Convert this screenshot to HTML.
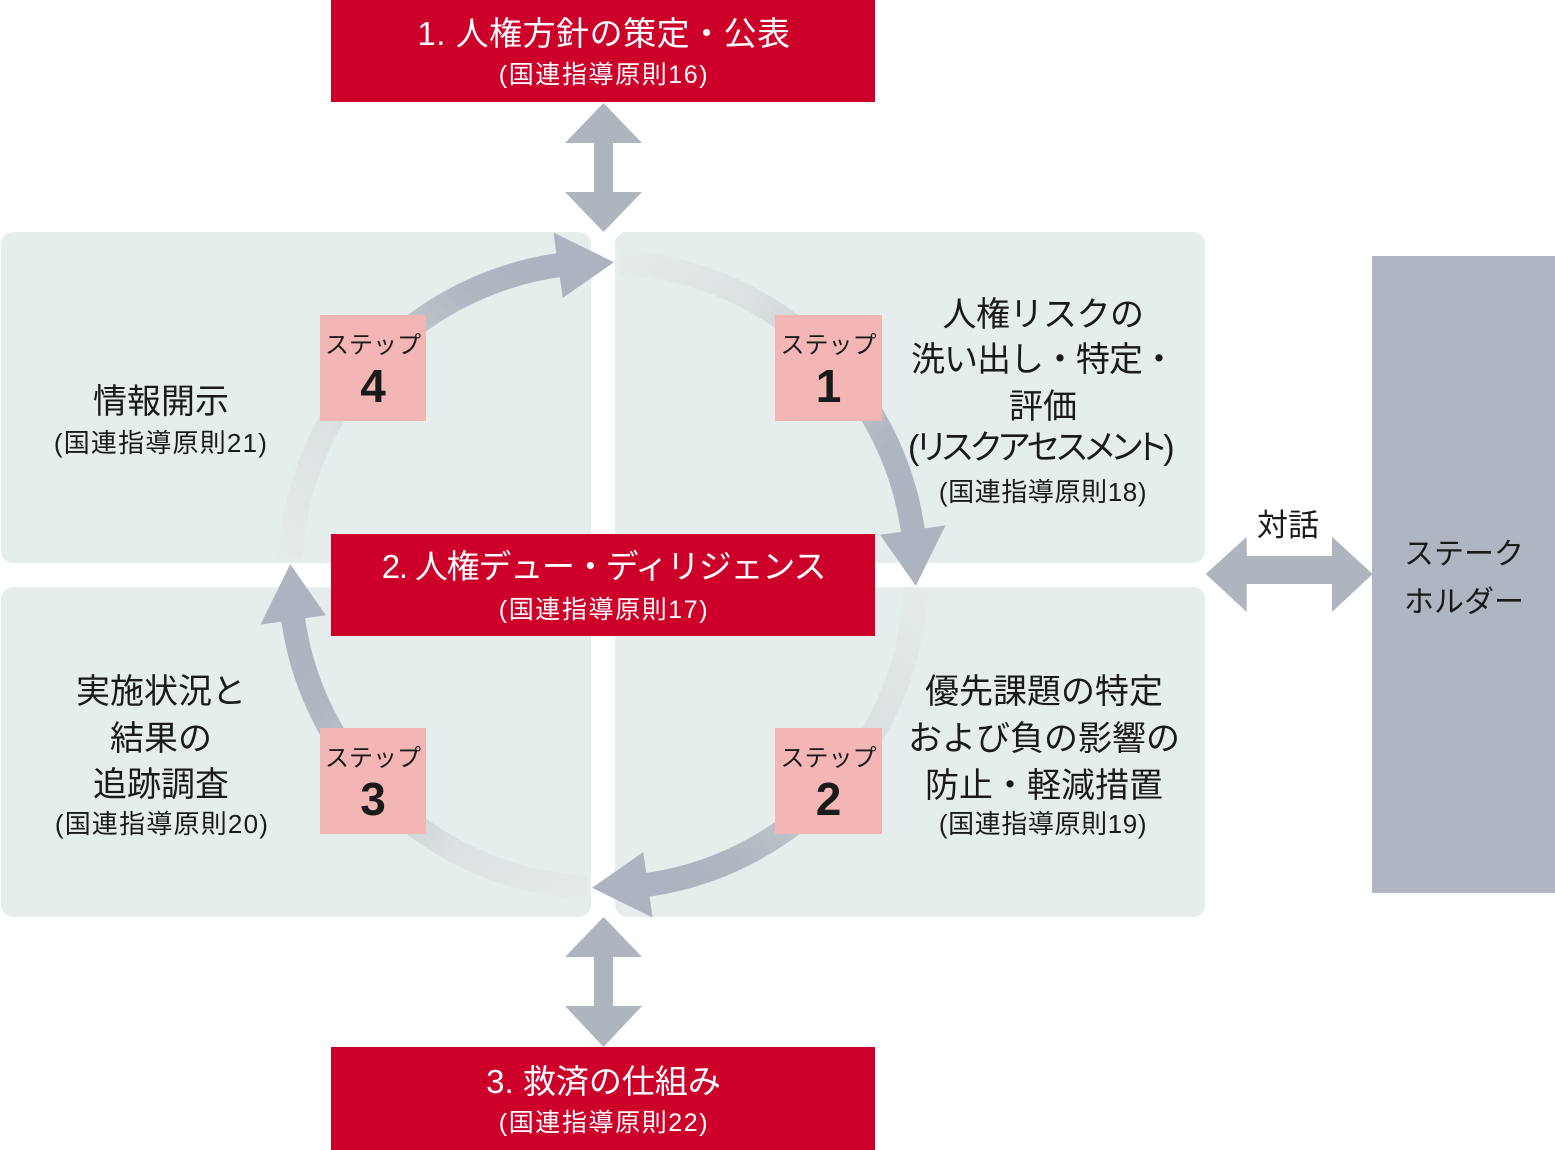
<!DOCTYPE html>
<html lang="ja">
<head>
<meta charset="utf-8">
<style>
  html, body { margin:0; padding:0; background:#ffffff; }
  body { width:1555px; height:1150px; overflow:hidden; }
  svg { display:block; }
  text { font-family: "Liberation Sans", "Noto Sans CJK JP", sans-serif; }
  .w { fill:#ffffff; }
  .k { fill:#1a1a1a; }
  .palt { font-feature-settings: "palt"; }
</style>
</head>
<body>
<svg width="1555" height="1150" viewBox="0 0 1555 1150" xmlns="http://www.w3.org/2000/svg">
  <defs>
    <linearGradient id="gTR" gradientUnits="userSpaceOnUse" x1="619.4" y1="262.4" x2="913.7" y2="536.8">
      <stop offset="0" stop-color="#e5eaeb"/>
      <stop offset="0.3" stop-color="#dce1e3"/>
      <stop offset="0.55" stop-color="#c5cad0"/>
      <stop offset="0.8" stop-color="#b0b6c0"/>
      <stop offset="1" stop-color="#adb4bf"/>
    </linearGradient>
    <linearGradient id="gBR" gradientUnits="userSpaceOnUse" x1="915.6" y1="591.4" x2="641.1" y2="885.7">
      <stop offset="0" stop-color="#e5eaeb"/>
      <stop offset="0.3" stop-color="#dce1e3"/>
      <stop offset="0.55" stop-color="#c5cad0"/>
      <stop offset="0.8" stop-color="#b0b6c0"/>
      <stop offset="1" stop-color="#adb4bf"/>
    </linearGradient>
    <linearGradient id="gBL" gradientUnits="userSpaceOnUse" x1="586.6" y1="887.6" x2="292.3" y2="613.1">
      <stop offset="0" stop-color="#e5eaeb"/>
      <stop offset="0.3" stop-color="#dce1e3"/>
      <stop offset="0.55" stop-color="#c5cad0"/>
      <stop offset="0.8" stop-color="#b0b6c0"/>
      <stop offset="1" stop-color="#adb4bf"/>
    </linearGradient>
    <linearGradient id="gTL" gradientUnits="userSpaceOnUse" x1="290.4" y1="558.6" x2="564.9" y2="264.3">
      <stop offset="0" stop-color="#e5eaeb"/>
      <stop offset="0.3" stop-color="#dce1e3"/>
      <stop offset="0.55" stop-color="#c5cad0"/>
      <stop offset="0.8" stop-color="#b0b6c0"/>
      <stop offset="1" stop-color="#adb4bf"/>
    </linearGradient>
  </defs>

  <!-- panels -->
  <rect x="1" y="232" width="590" height="331" rx="12" ry="12" fill="#e6eded"/>
  <rect x="615" y="232" width="590" height="331" rx="12" ry="12" fill="#e6eded"/>
  <rect x="1" y="587" width="590" height="330" rx="12" ry="12" fill="#e6eded"/>
  <rect x="615" y="587" width="590" height="330" rx="12" ry="12" fill="#e6eded"/>

  <!-- stakeholder box -->
  <rect x="1372" y="256" width="183" height="637" fill="#b0b6c1"/>

  <!-- circular arcs -->
  <g fill="none" stroke-width="24" stroke-linecap="butt">
    <path d="M 619.4 262.4 A 313 313 0 0 1 913.7 536.8" stroke="url(#gTR)"/>
    <path d="M 915.6 591.4 A 313 313 0 0 1 641.1 885.7" stroke="url(#gBR)"/>
    <path d="M 586.6 887.6 A 313 313 0 0 1 292.3 613.1" stroke="url(#gBL)"/>
    <path d="M 290.4 558.6 A 313 313 0 0 1 564.9 264.3" stroke="url(#gTL)"/>
  </g>
  <!-- arc arrowheads -->
  <g fill="#adb4bf">
    <polygon points="613.9,262.2 553.4,232.5 562.8,297.9"/>
    <polygon points="915.8,585.9 945.5,525.4 880.1,534.8"/>
    <polygon points="592.1,887.8 652.6,917.5 643.2,852.1"/>
    <polygon points="290.2,564.1 260.5,624.6 325.9,615.2"/>
  </g>

  <!-- vertical double arrows -->
  <g fill="#aeb5bf">
    <polygon points="603.5,103 642,143 613,143 613,192 642,192 603.5,232 565,192 594,192 594,143 565,143"/>
    <polygon points="603.5,917 642,957 613,957 613,1006 642,1006 603.5,1047 565,1006 594,1006 594,957 565,957"/>
    <!-- horizontal double arrow -->
    <polygon points="1205.7,574 1246.7,536.7 1246.7,556 1332,556 1332,536.7 1372.7,574 1332,612 1332,584 1246.7,584 1246.7,612"/>
  </g>

  <!-- red boxes -->
  <rect x="331" y="0" width="544" height="102" fill="#cc0029"/>
  <rect x="331" y="534" width="544" height="102" fill="#cc0029"/>
  <rect x="331" y="1047" width="544" height="103" fill="#cc0029"/>

  <!-- step boxes -->
  <g fill="#f4b5b5">
    <rect x="320" y="315" width="106" height="106"/>
    <rect x="775" y="315" width="107" height="106"/>
    <rect x="320" y="728" width="106" height="106"/>
    <rect x="775" y="728" width="107" height="106"/>
  </g>

  <!-- red box texts -->
  <text class="w" x="604" y="45" font-size="33" text-anchor="middle" letter-spacing="0.5">1. 人権方針の策定・公表</text>
  <text class="w" x="604" y="83" font-size="25" text-anchor="middle" letter-spacing="1.6">(国連指導原則16)</text>

  <text class="w" x="603.5" y="578" font-size="33" text-anchor="middle" letter-spacing="-1.2">2. 人権デュー・ディリジェンス</text>
  <text class="w" x="604" y="618" font-size="25" text-anchor="middle" letter-spacing="1.6">(国連指導原則17)</text>

  <text class="w" x="603.5" y="1093" font-size="33" text-anchor="middle">3. 救済の仕組み</text>
  <text class="w" x="604" y="1131" font-size="25" text-anchor="middle" letter-spacing="1.6">(国連指導原則22)</text>

  <!-- step labels -->
  <g class="k" text-anchor="middle">
    <text x="373" y="353" font-size="24">ステップ</text>
    <text x="373" y="402" font-size="46" font-weight="bold">4</text>
    <text x="828.5" y="353" font-size="24">ステップ</text>
    <text x="828.5" y="402" font-size="46" font-weight="bold">1</text>
    <text x="373" y="766" font-size="24">ステップ</text>
    <text x="373" y="815" font-size="46" font-weight="bold">3</text>
    <text x="828.5" y="766" font-size="24">ステップ</text>
    <text x="828.5" y="815" font-size="46" font-weight="bold">2</text>
  </g>

  <!-- top-left panel -->
  <g class="k" text-anchor="middle">
    <text x="161" y="413" font-size="34">情報開示</text>
    <text x="161" y="452" font-size="26" letter-spacing="1.2">(国連指導原則21)</text>
  </g>

  <!-- top-right panel -->
  <g class="k" text-anchor="middle">
    <text x="1043" y="326" font-size="34" letter-spacing="-0.5">人権リスクの</text>
    <text x="1043" y="371" font-size="34" letter-spacing="-1">洗い出し・特定・</text>
    <text x="1043" y="418" font-size="34">評価</text>
    <text class="palt" x="1040" y="459" font-size="34" letter-spacing="-2.5">(リスクアセスメント)</text>
    <text x="1043" y="501" font-size="26" letter-spacing="0.6">(国連指導原則18)</text>
  </g>

  <!-- bottom-left panel -->
  <g class="k" text-anchor="middle">
    <text x="161" y="703" font-size="34">実施状況と</text>
    <text x="161" y="750" font-size="34">結果の</text>
    <text x="161" y="796" font-size="34">追跡調査</text>
    <text x="162" y="833" font-size="26" letter-spacing="1.2">(国連指導原則20)</text>
  </g>

  <!-- bottom-right panel -->
  <g class="k" text-anchor="middle">
    <text x="1044" y="703" font-size="34">優先課題の特定</text>
    <text x="1044" y="750" font-size="34">および負の影響の</text>
    <text x="1044" y="797" font-size="34">防止・軽減措置</text>
    <text x="1043" y="833" font-size="26" letter-spacing="0.6">(国連指導原則19)</text>
  </g>

  <!-- dialogue & stakeholder -->
  <text class="k" x="1288" y="536" font-size="31" text-anchor="middle">対話</text>
  <text class="k" x="1404" y="564" font-size="30">ステーク</text>
  <text class="k" x="1404" y="612" font-size="30">ホルダー</text>
</svg>
</body>
</html>
